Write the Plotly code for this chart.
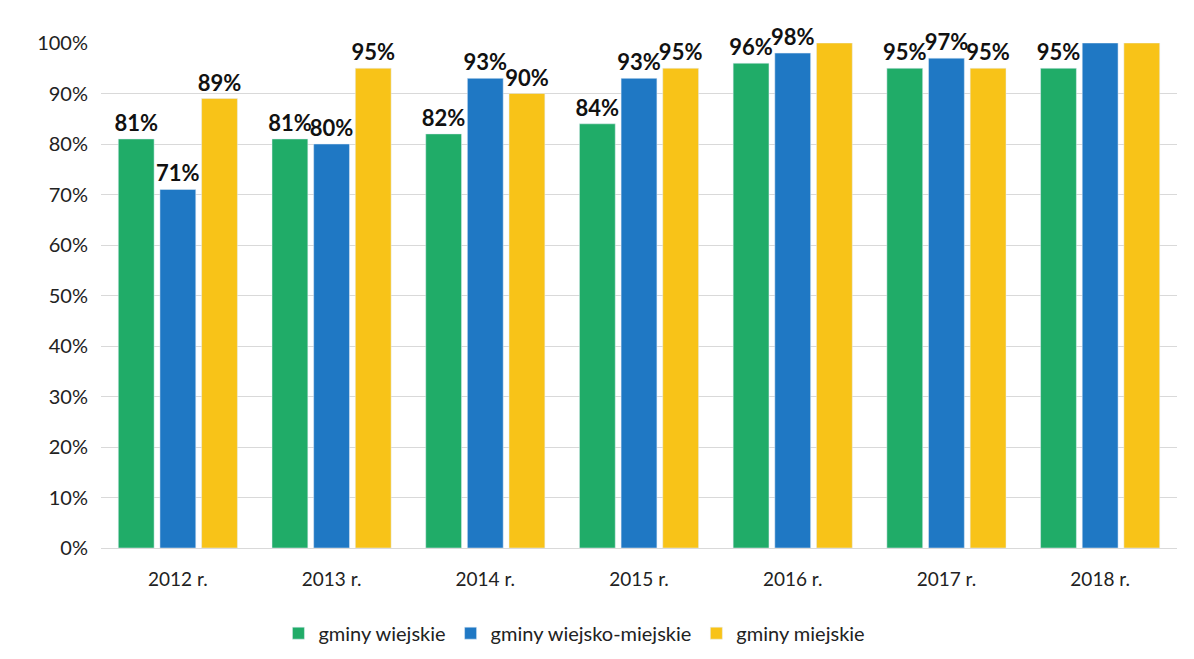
import plotly.graph_objects as go

years = ["2012 r.", "2013 r.", "2014 r.", "2015 r.", "2016 r.", "2017 r.", "2018 r."]
series_names = ["gminy wiejskie", "gminy wiejsko-miejskie", "gminy miejskie"]
wiejskie = [81, 81, 82, 84, 96, 95, 95]
wiejsko_miejskie = [71, 80, 93, 93, 98, 97, 100]
miejskie = [89, 95, 90, 95, 100, 95, 100]
# labels visible in the reference (some bars carry no label)
labels_wiejskie = ["81%", "81%", "82%", "84%", "96%", "95%", "95%"]
labels_wm = ["71%", "80%", "93%", "93%", "98%", "97%", ""]
labels_miejskie = ["89%", "95%", "90%", "95%", "", "95%", ""]
y_ticks = [0, 10, 20, 30, 40, 50, 60, 70, 80, 90, 100]
y_tick_labels = ["0%", "10%", "20%", "30%", "40%", "50%", "60%", "70%", "80%", "90%", "100%"]

colors = ["#20AC68", "#1F78C4", "#F8C318"]
font_family = "Lato, 'Open Sans', sans-serif"

fig = go.Figure()
for name, vals, labs, col in zip(series_names,
                                 [wiejskie, wiejsko_miejskie, miejskie],
                                 [labels_wiejskie, labels_wm, labels_miejskie],
                                 colors):
    fig.add_trace(go.Bar(
        x=years, y=vals, name=name, marker_color=col,
        text=labs, textposition="outside", cliponaxis=False, constraintext="none",
        textfont=dict(size=22, color="#111111", family="Lato, sans-serif", weight="bold"),
    ))

fig.update_layout(
    width=1194, height=659,
    paper_bgcolor="white", plot_bgcolor="white",
    margin=dict(l=93, r=25, t=35, b=119, autoexpand=False),
    barmode="group", bargap=0.187, bargroupgap=0.14,
    font=dict(family=font_family, size=19, color="#222222"),
    legend=dict(orientation="h", x=0.44, xanchor="center", y=-0.13, yanchor="top",
                font=dict(size=20, color="#222222"), itemwidth=30),
    showlegend=True,
)
fig.update_yaxes(range=[0, 100], tickvals=y_ticks, ticktext=y_tick_labels,
                 showgrid=True, gridcolor="#D9D9D9", gridwidth=1,
                 zeroline=False, showline=False, ticks="", ticklabelstandoff=12,
                 tickfont=dict(size=20))
fig.update_xaxes(showline=True, linecolor="#D9D9D9", linewidth=1, ticks="",
                 tickfont=dict(size=19), ticklabelstandoff=14)

fig.write_html("out.html")
